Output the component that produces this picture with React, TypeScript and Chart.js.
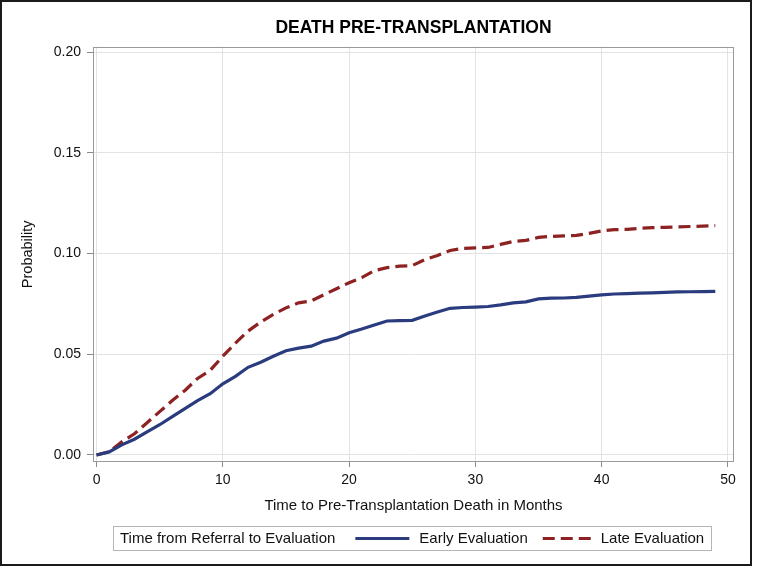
import React, { useEffect, useRef } from "react";
import { Chart, registerables } from "chart.js";

Chart.register(...registerables);

const TITLE = "DEATH PRE-TRANSPLANTATION";
const X_TITLE = "Time to Pre-Transplantation Death in Months";
const Y_TITLE = "Probability";
const LEGEND_TITLE = "Time from Referral to Evaluation";

const MONTHS = [
  0, 1, 2, 3, 4, 5, 6, 7, 8, 9, 10, 11, 12, 13, 14, 15, 16, 17, 18, 19, 20, 21, 22, 23, 24,
  25, 26, 27, 28, 29, 30, 31, 32, 33, 34, 35, 36, 37, 38, 39, 40, 41, 42, 43, 44, 45, 46, 47, 48, 49,
];

const EARLY = [
  0.0, 0.0015, 0.005, 0.0078, 0.0115, 0.015, 0.019, 0.023, 0.027, 0.0304, 0.0353, 0.039, 0.0435,
  0.046, 0.049, 0.0517, 0.053, 0.054, 0.0565, 0.058, 0.0607, 0.0625, 0.0645, 0.0665, 0.0667,
  0.0668, 0.069, 0.071, 0.0728, 0.0732, 0.0734, 0.0737, 0.0745, 0.0755, 0.076, 0.0775, 0.0778,
  0.0779, 0.0782, 0.0788, 0.0795, 0.0799, 0.0801, 0.0803, 0.0805, 0.0807, 0.0809, 0.081, 0.0811,
  0.0812,
];

const LATE = [
  0.0, 0.0016, 0.0065, 0.0105, 0.016, 0.0215, 0.027, 0.032, 0.038, 0.042, 0.049, 0.0555, 0.0615,
  0.066, 0.0698, 0.073, 0.0755, 0.0765, 0.0795, 0.0825, 0.0855, 0.088, 0.0915, 0.093, 0.0937,
  0.094, 0.097, 0.099, 0.1015, 0.1025, 0.1028, 0.103, 0.1045, 0.106, 0.1065, 0.108, 0.1085,
  0.1087, 0.109, 0.11, 0.1112, 0.1118, 0.112, 0.1125, 0.1128, 0.113, 0.1132, 0.1134, 0.1136,
  0.1138,
];

const SERIES_LABELS = ["Early Evaluation", "Late Evaluation"];
const X_TICKS = [0, 10, 20, 30, 40, 50];
const Y_TICKS = [0.0, 0.05, 0.1, 0.15, 0.2];

const FONT = '"Liberation Sans", Arial, Helvetica, sans-serif';

const framePlugin = {
  id: "frameAndLegend",
  beforeDraw(chart: any) {
    const ctx = chart.ctx;
    ctx.save();
    ctx.fillStyle = "#ffffff";
    ctx.fillRect(0, 0, chart.width, chart.height);
    ctx.restore();
  },
  afterDraw(chart: any) {
    const { ctx, chartArea: a } = chart;
    ctx.save();
    // plot frame
    ctx.strokeStyle = "#9a9a9a";
    ctx.lineWidth = 1;
    ctx.strokeRect(Math.round(a.left) + 0.5, Math.round(a.top) + 0.5, Math.round(a.right - a.left) - 1, Math.round(a.bottom - a.top) - 1);
    // outer border
    ctx.strokeStyle = "#1a1a1a";
    ctx.lineWidth = 2;
    ctx.strokeRect(1, 1, 750, 564);

    // legend
    const font = `15px ${FONT}`;
    ctx.font = font;
    ctx.fillStyle = "#111";
    ctx.textBaseline = "middle";
    const boxTop = 526;
    const boxBottom = 550;
    const cy = (boxTop + boxBottom) / 2;
    const pad = 7;
    const sampleLens = [54, 48];
    const gapAfterTitle = 20;
    const gapSample = 10;
    const gapItem = 15;
    const ds = chart.data.datasets;
    let total = pad + ctx.measureText(LEGEND_TITLE).width + gapAfterTitle;
    ds.forEach((d: any, i: number) => {
      total += sampleLens[i] + gapSample + ctx.measureText(d.label).width;
      if (i < ds.length - 1) total += gapItem;
    });
    total += pad;
    const center = (a.left + a.right) / 2 - 1;
    const left = Math.round(center - total / 2);
    ctx.strokeStyle = "#b5b5b5";
    ctx.lineWidth = 1;
    ctx.strokeRect(left + 0.5, boxTop + 0.5, Math.round(total), boxBottom - boxTop);
    let x = left + pad;
    ctx.fillText(LEGEND_TITLE, x, cy + 1);
    x += ctx.measureText(LEGEND_TITLE).width + gapAfterTitle;
    ds.forEach((d: any, i: number) => {
      ctx.save();
      ctx.strokeStyle = d.borderColor;
      ctx.lineWidth = d.borderWidth;
      ctx.setLineDash(d.borderDash || []);
      ctx.beginPath();
      ctx.moveTo(x, cy + 0.5);
      ctx.lineTo(x + sampleLens[i], cy + 0.5);
      ctx.stroke();
      ctx.restore();
      x += sampleLens[i] + gapSample;
      ctx.fillText(d.label, x, cy + 1);
      x += ctx.measureText(d.label).width + gapItem;
    });
    ctx.restore();
  },
};

export default function App() {
  const ref = useRef<HTMLCanvasElement | null>(null);

  useEffect(() => {
    document.body.style.margin = "0";
    const canvas = ref.current;
    if (!canvas) return;
    const chart = new Chart(canvas, {
      type: "line",
      data: {
        datasets: [
          {
            label: SERIES_LABELS[0],
            data: MONTHS.map((m, i) => ({ x: m, y: EARLY[i] })),
            borderColor: "#2a3b7e",
            borderWidth: 3.2,
            pointRadius: 0,
            tension: 0,
            fill: false,
          },
          {
            label: SERIES_LABELS[1],
            data: MONTHS.map((m, i) => ({ x: m, y: LATE[i] })),
            borderColor: "#8e2222",
            borderWidth: 3.2,
            borderDash: [12, 6],
            pointRadius: 0,
            tension: 0,
            fill: false,
          },
        ],
      },
      options: {
        responsive: false,
        animation: false,
        layout: { padding: { left: 0, right: 23, top: 0, bottom: 52 } },
        plugins: {
          legend: { display: false },
          tooltip: { enabled: false },
          title: {
            display: true,
            text: TITLE,
            fullSize: false,
            color: "#000",
            font: { family: FONT, size: 17.5, weight: "bold" },
            padding: { top: 17.3, bottom: 8.3 },
          },
        },
        scales: {
          x: {
            type: "linear",
            min: -0.28,
            max: 50.48,
            afterBuildTicks: (s: any) => {
              s.ticks = X_TICKS.map((v) => ({ value: v }));
            },
            afterFit: (s: any) => {
              s.height = 56;
            },
            ticks: {
              color: "#111",
              font: { family: FONT, size: 14 },
              padding: 5,
              maxRotation: 0,
              callback: (v: any) => String(v),
            },
            grid: { color: "#e3e3e3", tickColor: "#8a8a8a", tickLength: 5, drawTicks: true },
            border: { display: false },
            title: {
              display: true,
              text: X_TITLE,
              color: "#111",
              font: { family: FONT, size: 15 },
              padding: { top: 0, bottom: 3.6 },
            },
          },
          y: {
            type: "linear",
            min: -0.0035,
            max: 0.2027,
            afterBuildTicks: (s: any) => {
              s.ticks = Y_TICKS.map((v) => ({ value: v }));
            },
            afterFit: (s: any) => {
              s.width = 93;
            },
            ticks: {
              color: "#111",
              font: { family: FONT, size: 14 },
              padding: 6,
              callback: (v: any) => Number(v).toFixed(2),
            },
            grid: { color: "#e3e3e3", tickColor: "#8a8a8a", tickLength: 6, drawTicks: true },
            border: { display: false },
            title: {
              display: true,
              text: Y_TITLE,
              color: "#111",
              font: { family: FONT, size: 14.5 },
              padding: { top: 19.5, bottom: 0 },
            },
          },
        },
      },
      plugins: [framePlugin],
    } as any);
    return () => chart.destroy();
  }, []);

  return <canvas ref={ref} width={757} height={570} style={{ display: "block" }} />;
}
